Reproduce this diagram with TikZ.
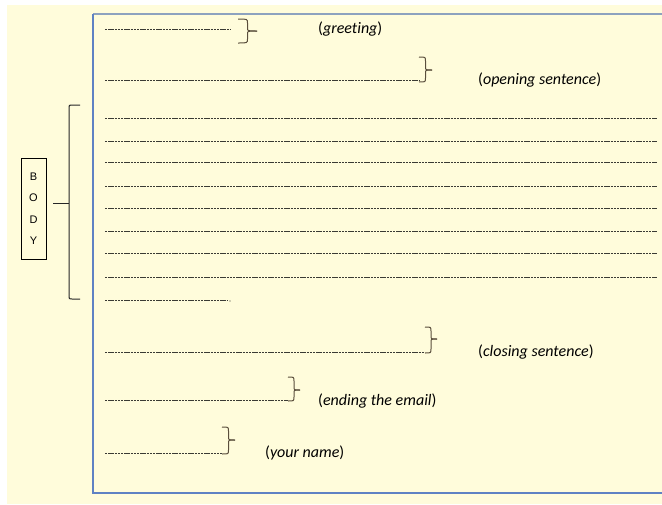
\documentclass[tikz,border=0pt]{standalone}
\usepackage{fontspec}
\setmainfont{Carlito}[Ligatures=NoCommon]
\newfontfamily\bodyfont{Liberation Sans}
\definecolor{cream}{HTML}{FFFCDB}
\definecolor{boxtop}{HTML}{8DA2BF}
\definecolor{boxblue}{HTML}{5F82C3}
\definecolor{dashgrey}{HTML}{3A3A34}
\definecolor{bracecol}{HTML}{5A4E3C}
\tikzset{
  writeline/.style={draw=dashgrey, line width=1pt, dash pattern=on 2.4pt off 0.8pt},
  bracestyle/.style={draw=bracecol, line width=1pt},
  label/.style={anchor=west, inner sep=0pt, font=\fontsize{16}{18}\selectfont},
}
\newcommand\RB[5]{%
  \pgfmathsetmacro\xa{#1+#5*0.5}%
  \pgfmathsetmacro\xb{#1+#5}%
  \draw[bracestyle] (#1,#2) .. controls (\xa,#2) .. (\xa,#2+4) -- (\xa,#3-3) .. controls (\xa,#3) .. (\xb,#3);
  \draw[bracestyle] (#1,#4) .. controls (\xa,#4) .. (\xa,#4-4) -- (\xa,#3+3) .. controls (\xa,#3) .. (\xb,#3);
}
\begin{document}
\begin{tikzpicture}[x=1pt,y=-1pt]
\useasboundingbox (0,0) rectangle (662,504);
\fill[white] (0,0) rectangle (662,504);
\fill[cream] (7,5) rectangle (662,504);
% letter frame
\draw[boxtop, line width=1.1pt] (93,14) -- (670,14);
\draw[boxblue, line width=1.1pt] (93,14) -- (93,493) -- (670,493);
% greeting
\draw[writeline] (105,29) -- (231,29);
\RB{238}{19}{31}{43}{19}
\node[label] (greet) at (318,29) {\textup{(}\textit{greeting}\textup{)}};
% opening
\draw[writeline] (105,80) -- (419,80);
\RB{419}{57}{70}{82}{13}
\node[label] (open) at (478,80) {\textup{(}\textit{opening sentence}\textup{)}};
% body lines
\foreach \yy in {118,141,162,186,208,231,253,277}
  \draw[writeline] (105,\yy) -- (657,\yy);
\draw[writeline] (105,300) -- (228,300);
\fill[dashgrey] (230,301) circle (0.6pt);
% body bracket
\draw[draw=black!85, line width=1pt] (80,105) -- (72,105) .. controls (69,105) .. (69,108) -- (69,296) .. controls (69,299) .. (72,299) -- (80,299);
\draw[draw=black!85, line width=1pt] (53,203) -- (69,203);
\node[draw=black, line width=0.9pt, minimum width=25pt, minimum height=101pt, inner sep=0pt,
      font=\bodyfont\fontsize{11}{21.5}\selectfont, align=center] (body) at (33.5,208.5)
      {B\\O\\D\\Y};
% closing
\draw[writeline] (105,352) -- (425,352);
\RB{425}{327}{339}{353}{12}
\node[label] (close) at (478,352) {\textup{(}\textit{closing sentence}\textup{)}};
% ending
\draw[writeline] (105,400) -- (288,400);
\RB{288}{377}{390}{401}{12}
\node[label] (ending) at (318,401) {\textup{(}\textit{ending the email}\textup{)}};
% name
\draw[writeline] (105,453) -- (222,453);
\RB{222}{427}{440}{454}{13}
\node[label] (yname) at (265,453) {\textup{(}\textit{your name}\textup{)}};
\end{tikzpicture}
\end{document}
